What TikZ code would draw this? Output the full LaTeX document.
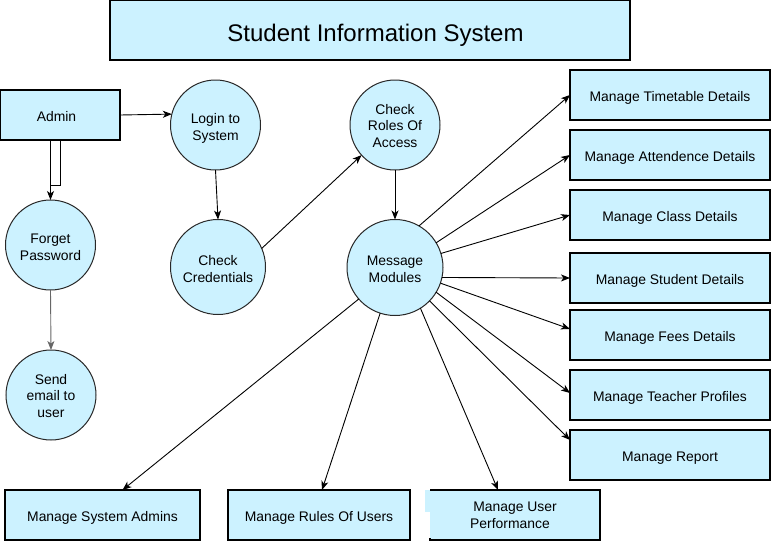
\documentclass[tikz,border=0pt]{standalone}
\usepackage{fontspec}
\setmainfont{Liberation Sans}
\usetikzlibrary{arrows.meta}
\definecolor{procfill}{RGB}{204,242,255}
\definecolor{ringline}{RGB}{40,40,40}
% centred lines of text, set a little below the middle of their shape
\newcommand{\nodetext}[2][-3.5pt]{\raisebox{#1}[\height][\depth]{\begin{tabular}{@{}c@{}}#2\end{tabular}}}
\tikzset{
  boxnode/.style={rectangle, draw=black, fill=procfill, line width=1.2pt,
    inner sep=0pt, outer sep=0pt,
    font=\fontsize{13.9}{16.8}\selectfont},
  procnode/.style={circle, draw=ringline, fill=procfill, line width=1pt,
    inner sep=0pt, outer sep=0pt,
    font=\fontsize{13.9}{16.8}\selectfont},
  flow/.style={line width=0.9pt, -{Stealth[length=9pt,width=7pt,inset=2.5pt]}},
  plain/.style={line width=0.9pt}
}
\begin{document}
\begin{tikzpicture}[x=1pt,y=-1pt]
\useasboundingbox (0,0) rectangle (771,541);

% title
\node[boxnode, minimum width=520pt, minimum height=59.5pt,
  font=\fontsize{24}{28}\selectfont] (title) at (370,30.25)
  {\nodetext[-6pt]{\hspace*{11pt}Student Information System}};

% login branch
\node[boxnode, minimum width=120pt, minimum height=50pt] (admin) at (60,115) {\nodetext{Admin\hspace*{7pt}}};
\node[procnode, minimum size=90pt] (login) at (215.5,125) {\nodetext{Login to\\System}};
\node[procnode, minimum size=95pt] (cred) at (218,267) {\nodetext{Check\\Credentials}};
\node[procnode, minimum size=90pt] (roles) at (395,125) {\nodetext[-2.5pt]{Check\\Roles Of\\Access}};
\node[procnode, minimum size=96pt] (msg) at (395,267.5) {\nodetext{Message\\Modules}};
\node[procnode, minimum size=90pt] (forget) at (50.5,245) {\nodetext{Forget\\Password}};
\node[procnode, minimum size=90pt] (mail) at (51,395) {\nodetext[-2.5pt]{Send\\email to\\user}};

% module boxes on the right
\node[boxnode, minimum width=200pt, minimum height=50pt] (tt) at (670,95) {\nodetext{Manage Timetable Details}};
\node[boxnode, minimum width=200pt, minimum height=50pt] (att) at (670,155) {\nodetext{Manage Attendence Details}};
\node[boxnode, minimum width=200pt, minimum height=50pt] (cls) at (670,215) {\nodetext{Manage Class Details}};
\node[boxnode, minimum width=200pt, minimum height=50pt] (stu) at (670,278) {\nodetext{Manage Student Details}};
\node[boxnode, minimum width=200pt, minimum height=50pt] (fee) at (670,335) {\nodetext{Manage Fees Details}};
\node[boxnode, minimum width=200pt, minimum height=50pt] (tea) at (670,395) {\nodetext{Manage Teacher Profiles}};
\node[boxnode, minimum width=200pt, minimum height=50pt] (rep) at (670,455) {\nodetext{Manage Report}};

% module boxes along the bottom
\node[boxnode, minimum width=195pt, minimum height=50pt] (sysadm) at (102.5,515) {\nodetext{Manage System Admins}};
\node[boxnode, minimum width=182pt, minimum height=50pt] (rules) at (319,515) {\nodetext{Manage Rules Of Users}};
\fill[procfill] (425,490) rectangle (431,512);
\node[rectangle, fill=procfill, minimum width=170pt, minimum height=50pt, inner sep=0pt,
  outer sep=0pt, font=\fontsize{13.9}{16.8}\selectfont] (perf) at (515,515)
  {\nodetext[-2pt]{Manage User\\Performance\hspace*{10pt}}};
\draw[line width=1.2pt] ([yshift=-23pt]perf.west) -- (perf.south west) -- (perf.south east)
  -- (perf.north east) -- (perf.north west);

% connectors
\draw[flow] (admin.east) -- (login.166);
\draw[plain] (admin.south) -- ++(0,45) coordinate (bend) -- (bend -| forget.north);
\draw[flow] (admin.south -| forget.north) -- (forget.north);
\draw[flow, draw=black!60] (forget.south) -- (mail.north);
\draw[flow] (login.south) -- (cred.north);
\draw[flow] (cred.23) -- (roles.222);
\draw[flow] (roles.south) -- (msg.north);

\draw[flow] (msg.60) -- (tt.west);
\draw[flow] (msg.31) -- (att.west);
\draw[flow] (msg.17) -- (cls.west);
\draw[flow] (msg.-12.6) -- (stu.west);
\draw[flow] (msg.-19) -- ([yshift=6pt]fee.west);
\draw[flow] (msg.-31.5) -- ([yshift=2pt]tea.west);
\draw[flow] (msg.-44.6) -- ([yshift=15pt]rep.west);
\draw[flow] (msg.-58.5) -- ([xshift=-17pt]perf.north);
\draw[flow] (msg.-108.6) -- ([xshift=3pt]rules.north);
\draw[flow] (msg.-139.5) -- ([xshift=20pt]sysadm.north);
\end{tikzpicture}
\end{document}
